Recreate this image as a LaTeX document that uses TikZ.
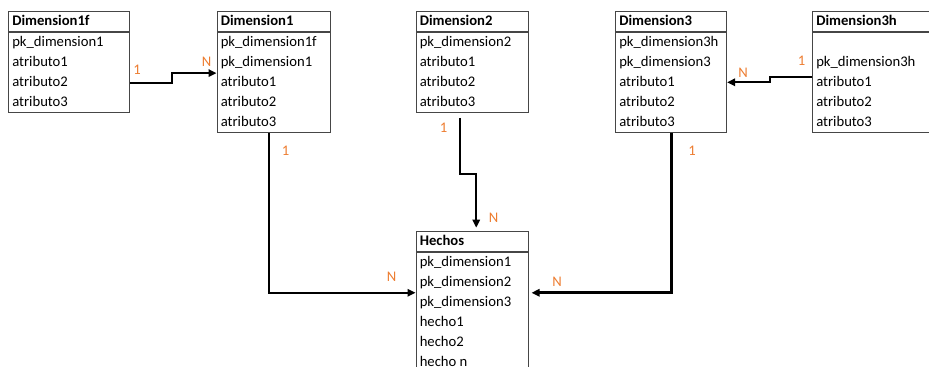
\documentclass[tikz,border=0pt]{standalone}
\usepackage{fontspec}
\setmainfont{Carlito}
\usetikzlibrary{arrows.meta,calc,positioning}
\definecolor{myorange}{RGB}{237,125,49}
\definecolor{myframe}{RGB}{70,70,70}

\begin{document}
\begin{tikzpicture}[x=0.75pt,y=-0.75pt,
    every node/.style={font=\fontsize{11}{13}\selectfont}]

\tikzstyle{hdr} = [draw=myframe, line width=0.8pt, inner sep=0,
    minimum height=15pt, anchor=north west]
\tikzstyle{body} = [draw=myframe, line width=0.8pt, inner sep=0]
\tikzstyle{title} = [anchor=base west, inner sep=0,
    font=\fontsize{11}{13}\selectfont\bfseries]
\tikzstyle{field} = [anchor=base west, inner sep=0]
\tikzstyle{card} = [text=myorange, inner sep=0]
\tikzstyle{rel} = [draw=black, line width=1.5pt,
    -{Triangle[length=6pt,width=5.5pt]}]

\clip (0,0) rectangle (929,367);

% =========================
% tables - first row
% =========================
\node[hdr, minimum width=90.75pt] (dim1f) at (8,10.7) {};
\node[body, minimum width=90.75pt, minimum height=60pt, below=0pt of dim1f] (dim1f-b) {};
\node[title] (dim1f-t) at ($(dim1f.north west)+(4,15)$) {Dimension1f};
\foreach \f [count=\i] in {pk\_dimension1,atributo1,atributo2,atributo3}
    \node[field] (dim1f-\i) at ($(dim1f-b.north west)+(4,20*\i-5)$) {\f};

\node[hdr, minimum width=84.75pt] (dim1) at (216.5,10.7) {};
\node[body, minimum width=84.75pt, minimum height=75pt, below=0pt of dim1] (dim1-b) {};
\node[title] (dim1-t) at ($(dim1.north west)+(4,15)$) {Dimension1};
\foreach \f [count=\i] in {pk\_dimension1f,pk\_dimension1,atributo1,atributo2,atributo3}
    \node[field] (dim1-\i) at ($(dim1-b.north west)+(4,20*\i-5)$) {\f};

\node[hdr, minimum width=84pt] (dim2) at (415.5,10.7) {};
\node[body, minimum width=84pt, minimum height=60pt, below=0pt of dim2] (dim2-b) {};
\node[title] (dim2-t) at ($(dim2.north west)+(4,15)$) {Dimension2};
\foreach \f [count=\i] in {pk\_dimension2,atributo1,atributo2,atributo3}
    \node[field] (dim2-\i) at ($(dim2-b.north west)+(4,20*\i-5)$) {\f};

\node[hdr, minimum width=83.25pt] (dim3) at (615,10.7) {};
\node[body, minimum width=83.25pt, minimum height=75pt, below=0pt of dim3] (dim3-b) {};
\node[title] (dim3-t) at ($(dim3.north west)+(4,15)$) {Dimension3};
\foreach \f [count=\i] in {pk\_dimension3h,pk\_dimension3,atributo1,atributo2,atributo3}
    \node[field] (dim3-\i) at ($(dim3-b.north west)+(4,20*\i-5)$) {\f};

\node[hdr, minimum width=97.5pt] (dim3h) at (812,10.7) {};
\node[body, minimum width=97.5pt, minimum height=75pt, below=0pt of dim3h] (dim3h-b) {};
\node[title] (dim3h-t) at ($(dim3h.north west)+(4,15)$) {Dimension3h};
\foreach \f [count=\i from 2] in {pk\_dimension3h,atributo1,atributo2,atributo3}
    \node[field] (dim3h-\i) at ($(dim3h-b.north west)+(4,20*\i-5)$) {\f};

% =========================
% fact table
% =========================
\node[hdr, minimum width=84pt] (hechos) at (415.5,230.7) {};
\node[body, minimum width=84pt, minimum height=93pt, below=0pt of hechos] (hechos-b) {};
\node[title] (hechos-t) at ($(hechos.north west)+(4,15)$) {Hechos};
\foreach \f [count=\i] in {pk\_dimension1,pk\_dimension2,pk\_dimension3,hecho1,hecho2,hecho n}
    \node[field] (hechos-\i) at ($(hechos-b.north west)+(4,20*\i-5)$) {\f};

% =========================
% relations
% =========================
\draw[rel] ($(dim1f-b.east)+(0,11)$) -- ++(42,0) |- ($(dim1-b.west)+(0,-9.2)$);
\node[card] (c1f-1) at ($(dim1f-b.east)+(7,-3)$) {1};
\node[card] (c1f-n) at ($(dim1-b.west)+(-10,-21)$) {N};

\draw[rel] ($(dim1-b.south)+(-4.7,0)$) |- ($(hechos-b.north west)+(0,41)$);
\node[card] (c1-1) at ($(dim1-b.south)+(12,18)$) {1};
\node[card] (c1-n) at ($(hechos-b.north west)+(-24,25)$) {N};

\draw[rel] ($(dim2-b.south)+(-12.5,5)$) -- ++(0,56) -| ($(hechos.north)+(4.2,-3)$);
\node[card] (c2-1) at ($(dim2-b.south)+(-28.5,15)$) {1};
\node[card] (c2-n) at ($(hechos.north)+(21.5,-12.7)$) {N};

\draw[rel, line width=2.25pt, shorten >=2.25pt] ($(dim3-b.south)+(0.5,0)$) |- ($(hechos-b.north east)+(0,41)$);
\node[card] (c3-1) at ($(dim3-b.south)+(21,18)$) {1};
\node[card] (c3-n) at ($(hechos-b.north east)+(28.5,30)$) {N};

\draw[rel] ($(dim3h-b.west)+(0,-5.7)$) -- ++(-42,0) |- (dim3-b.east);
\node[card] (c3h-1) at ($(dim3h-b.west)+(-10.5,-22)$) {1};
\node[card] (c3h-n) at ($(dim3-b.east)+(16,-10)$) {N};

\end{tikzpicture}
\end{document}
